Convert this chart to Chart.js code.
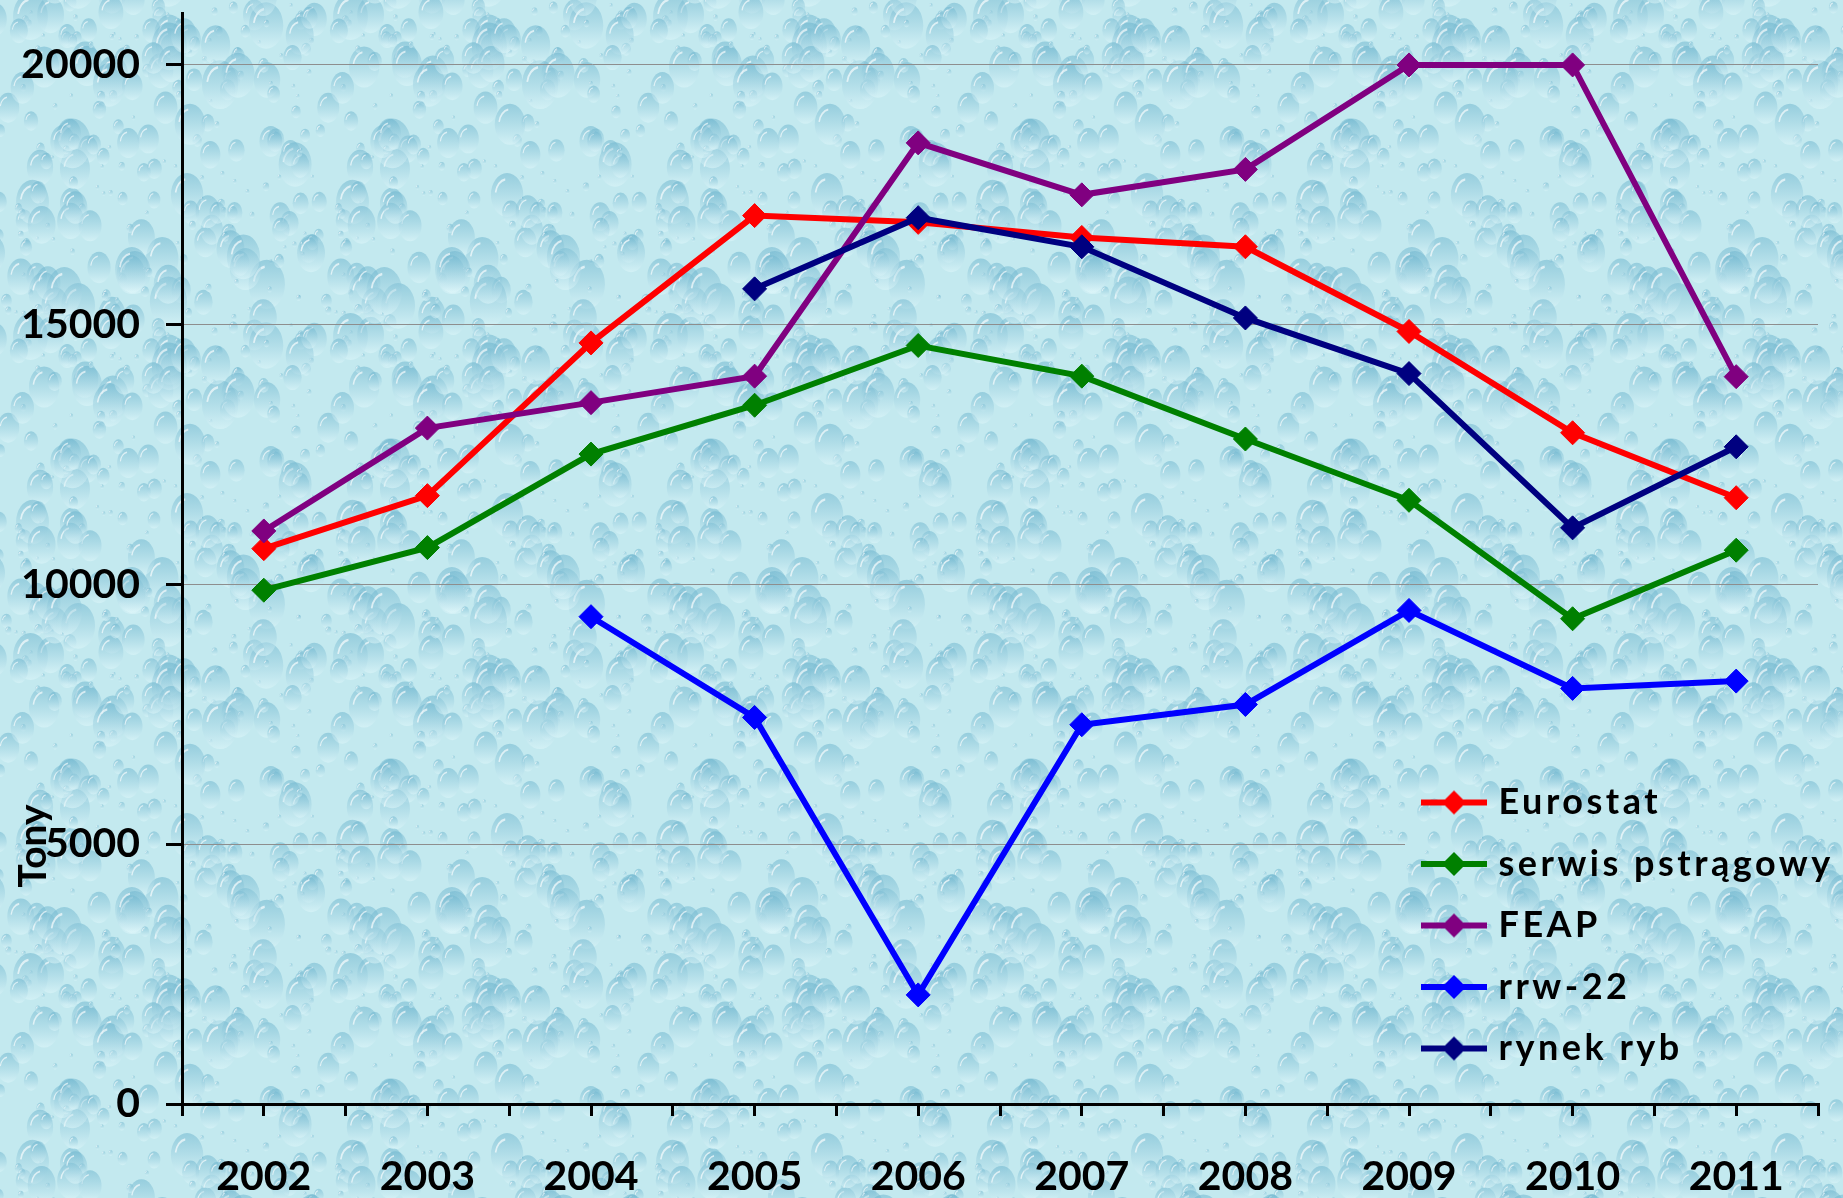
<!DOCTYPE html>
<html>
<head>
<meta charset="utf-8">
<script src="https://cdn.jsdelivr.net/npm/chart.js@4.4.1/dist/chart.umd.min.js"></script>
<style>
  html, body { margin: 0; padding: 0; overflow: hidden; background: #bfe7ee; }
  #wrap { width: 1843px; height: 1198px; position: relative; }
</style>
</head>
<body>
<div id="wrap"><canvas id="chart"></canvas></div>
<script>
// values (tonnes)
const years = [2002, 2003, 2004, 2005, 2006, 2007, 2008, 2009, 2010, 2011];
const eurostat = [10690, 11710, 14650, 17100, 16970, 16680, 16500, 14870, 12920, 11670];
const serwis = [9890, 10710, 12510, 13450, 14600, 14010, 12800, 11620, 9340, 10660];
const feap = [11030, 13010, 13500, 14010, 18500, 17500, 17990, 20000, 20000, 14000];
const rrw22 = [null, null, 9380, 7440, 2100, 7300, 7690, 9500, 8000, 8140];
const rynekRyb = [null, null, null, 15690, 17060, 16500, 15130, 14060, 11090, 12650];

const seriesNames = ['Eurostat', 'serwis pstrągowy', 'FEAP', 'rrw-22', 'rynek ryb'];
const seriesValues = [eurostat, serwis, feap, rrw22, rynekRyb];
const seriesColors = ['#ff0000', '#008000', '#800080', '#0000ff', '#000080'];
const yTicks = [0, 5000, 10000, 15000, 20000];
const yTitle = 'Tony';

const FONT = 'Lato';

// water-drop background tile (deterministic)
function mulberry32(a) {
  return function () {
    a |= 0; a = a + 0x6D2B79F5 | 0;
    let t = Math.imul(a ^ a >>> 15, 1 | a);
    t = t + Math.imul(t ^ t >>> 7, 61 | t) ^ t;
    return ((t ^ t >>> 14) >>> 0) / 4294967296;
  };
}
function drawDrop(g, x, y, r) {
  g.save();
  g.translate(x, y);
  g.scale(0.85, 1.15);
  const grad = g.createLinearGradient(0, -r, 0, r);
  grad.addColorStop(0, 'rgba(95,172,200,0.45)');
  grad.addColorStop(1, 'rgba(225,248,251,0.5)');
  g.fillStyle = grad;
  g.beginPath(); g.arc(0, 0, r, 0, Math.PI * 2); g.fill();
  g.strokeStyle = 'rgba(255,255,255,0.65)';
  g.lineWidth = Math.max(1, r * 0.1);
  g.beginPath(); g.arc(0, 0, r * 0.72, Math.PI * 1.05, Math.PI * 1.45); g.stroke();
  g.restore();
}
function makeTexture() {
  const size = 320;
  const c = document.createElement('canvas');
  c.width = c.height = size;
  const g = c.getContext('2d');
  g.fillStyle = '#c3e9ef';
  g.fillRect(0, 0, size, size);
  const rnd = mulberry32(20110);
  for (let i = 0; i < 260; i++) {
    const r = 2 + Math.pow(rnd(), 2.2) * 20;
    const x = rnd() * size, y = rnd() * size;
    for (const dx of [-size, 0, size]) for (const dy of [-size, 0, size]) drawDrop(g, x + dx, y + dy, r);
  }
  return c;
}
const texture = makeTexture();

// legend icon: line with diamond
function legendIcon(color) {
  const c = document.createElement('canvas');
  c.width = 66; c.height = 26;
  const g = c.getContext('2d');
  g.strokeStyle = color; g.lineWidth = 6;
  g.beginPath(); g.moveTo(0, 13); g.lineTo(66, 13); g.stroke();
  g.fillStyle = color;
  g.beginPath(); g.moveTo(21, 13); g.lineTo(33, 1); g.lineTo(45, 13); g.lineTo(33, 25); g.closePath(); g.fill();
  return c;
}
const icons = seriesColors.map(legendIcon);

const ctx = document.getElementById('chart').getContext('2d');
let pattern = null;

const pagePlugin = {
  id: 'page',
  beforeDraw(chart) {
    const c = chart.ctx;
    if (!pattern) pattern = c.createPattern(texture, 'repeat');
    c.save();
    c.fillStyle = pattern;
    c.fillRect(0, 0, chart.width, chart.height);
    c.restore();
    const lg = chart.legend;
    if (lg && !lg._wrapped) {
      const orig = lg.draw.bind(lg);
      lg.draw = function (area) {
        const k = chart.ctx;
        k.save();
        k.fillStyle = pattern;
        k.fillRect(1405, 775, chart.chartArea.right - 1405, 310);
        k.letterSpacing = '3.5px';
        orig(area);
        k.restore();
      };
      lg._wrapped = true;
    }
  },
  afterLayout(chart) {
    const lg = chart.legend;
    if (!lg) return;
    lg.left = 1402; lg.top = 759;
    lg.right = chart.width; lg.bottom = chart.height;
    lg.width = lg.right - lg.left; lg.height = lg.bottom - lg.top;
  },
  afterDraw(chart) {
    const c = chart.ctx;
    c.save();
    c.translate(33, 846);
    c.rotate(-Math.PI / 2);
    c.font = 'bold 39px ' + FONT;
    c.fillStyle = '#000';
    c.textAlign = 'center';
    c.textBaseline = 'middle';
    c.fillText(yTitle, 0, 0);
    c.restore();
  }
};

new Chart(ctx, {
  type: 'line',
  data: {
    datasets: seriesNames.map((name, i) => ({
      label: name,
      data: years.map((yr, j) => ({ x: yr, y: seriesValues[i][j] })),
      borderColor: seriesColors[i],
      backgroundColor: seriesColors[i],
      borderWidth: 6,
      pointStyle: 'rectRot',
      pointRadius: 12,
      pointHoverRadius: 12,
      pointBorderWidth: 1,
      pointBorderColor: seriesColors[i],
      pointBackgroundColor: seriesColors[i],
      tension: 0,
      fill: false,
      order: seriesNames.length - i
    }))
  },
  options: {
    responsive: true,
    maintainAspectRatio: false,
    animation: false,
    layout: { padding: { top: 11, right: 25, left: 0, bottom: 0 } },
    plugins: {
      tooltip: { enabled: false },
      title: { display: false },
      legend: {
        display: true,
        position: 'chartArea',
        align: 'start',
        labels: {
          usePointStyle: true,
          pointStyleWidth: 53,
          padding: 25.5,
          color: '#000',
          font: { family: FONT, size: 36, weight: 'bold' },
          sort: (a, b) => a.datasetIndex - b.datasetIndex,
          generateLabels(chart) {
            const items = Chart.defaults.plugins.legend.labels.generateLabels(chart);
            items.forEach(it => { it.pointStyle = icons[it.datasetIndex]; });
            return items;
          }
        }
      }
    },
    scales: {
      x: {
        type: 'linear',
        min: years[0] - 0.5,
        max: years[years.length - 1] + 0.5,
        afterBuildTicks(scale) {
          const t = [];
          years.forEach(yr => { t.push({ value: yr - 0.5 }); t.push({ value: yr }); });
          t.push({ value: years[years.length - 1] + 0.5 });
          scale.ticks = t;
        },
        afterFit(scale) {
          scale.height = 94;
          scale.paddingLeft = 0; scale.paddingRight = 0;
        },
        border: { display: true, color: '#000', width: 3 },
        grid: {
          drawOnChartArea: false,
          drawTicks: true,
          tickLength: 12,
          color: '#000',
          lineWidth: 3
        },
        ticks: {
          autoSkip: false,
          maxRotation: 0,
          minRotation: 0,
          padding: 36,
          color: '#000',
          font: { family: FONT, size: 41, weight: 'bold' },
          callback: v => Number.isInteger(v) ? String(v) : ''
        }
      },
      y: {
        min: 0,
        max: 21000,
        afterBuildTicks(scale) { scale.ticks = yTicks.map(v => ({ value: v })); },
        afterFit(scale) {
          scale.width = 182;
          scale.paddingTop = 0; scale.paddingBottom = 0;
        },
        border: { display: true, color: '#000', width: 3 },
        grid: {
          color: c => (c.tick && c.tick.value === 0) ? 'rgba(0,0,0,0)' : '#8e8e8e',
          lineWidth: 1,
          tickColor: '#000',
          tickWidth: 3,
          tickLength: 16
        },
        ticks: {
          padding: 26,
          color: '#000',
          font: { family: FONT, size: 41, weight: 'bold' },
          callback: v => String(v)
        }
      }
    }
  },
  plugins: [pagePlugin]
});
</script>
</body>
</html>
